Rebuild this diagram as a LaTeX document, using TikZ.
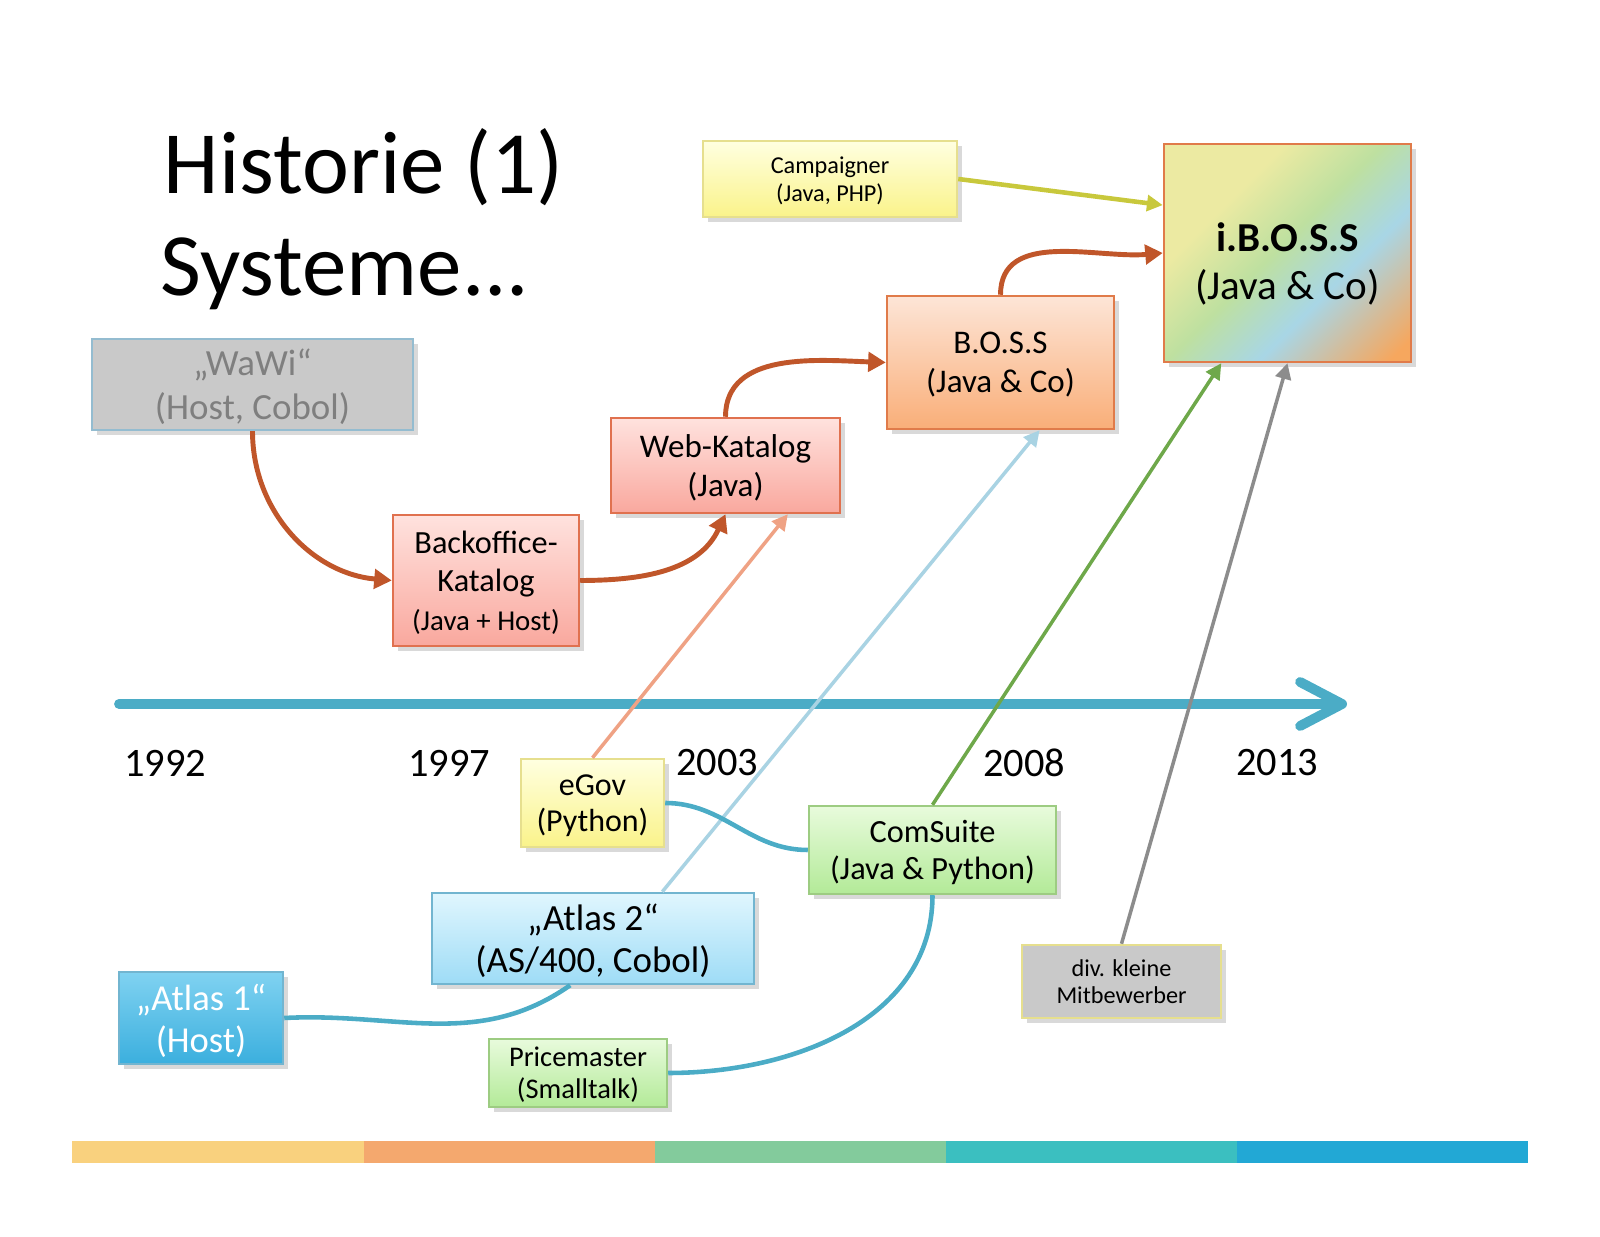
\documentclass[tikz,border=0pt]{standalone}
\usepackage{fontspec}
\setmainfont{Carlito}
\usetikzlibrary{arrows.meta,shadows}
\definecolor{HSEvolve}{HTML}{C0562A}
\definecolor{HSTime}{HTML}{4BACC6}
\definecolor{HSLink}{HTML}{4BACC6}
\definecolor{HSGrayFill}{HTML}{C9C9C9}
\definecolor{HSGrayText}{HTML}{7F7F7F}
\definecolor{HSWaWiLine}{HTML}{94BCD0}
\definecolor{HSRedTop}{HTML}{FFE2DE}
\definecolor{HSRedBot}{HTML}{F9A89E}
\definecolor{HSRedLine}{HTML}{E0714F}
\definecolor{HSPeachTop}{HTML}{FDE5D7}
\definecolor{HSPeachBot}{HTML}{F9AE78}
\definecolor{HSYelTop}{HTML}{FFFFE0}
\definecolor{HSYelBot}{HTML}{FAF38A}
\definecolor{HSYelLine}{HTML}{E6DF8E}
\definecolor{HSGrnTop}{HTML}{E8FBDC}
\definecolor{HSGrnBot}{HTML}{B3EA98}
\definecolor{HSGrnLine}{HTML}{9DCC82}
\definecolor{HSBluTop}{HTML}{E0F6FE}
\definecolor{HSBluBot}{HTML}{9EDCF6}
\definecolor{HSBluLine}{HTML}{72B5D0}
\definecolor{HSAtlTop}{HTML}{80D2F1}
\definecolor{HSAtlBot}{HTML}{3BAFDE}
\definecolor{HSIbY}{HTML}{ECEAA2}
\definecolor{HSIbG}{HTML}{BEE0A0}
\definecolor{HSIbB}{HTML}{A8D6E6}
\definecolor{HSIbO}{HTML}{F6A75E}
\definecolor{HSIbLine}{HTML}{E07B4A}
\definecolor{HSCampArrow}{HTML}{C8C83C}
\definecolor{HSGovArrow}{HTML}{EFA284}
\definecolor{HSAtlArrow}{HTML}{A9D3E3}
\definecolor{HSComArrow}{HTML}{6EA84A}
\definecolor{HSMitArrow}{HTML}{8C8C8C}
\definecolor{HSBarA}{HTML}{F9D17E}
\definecolor{HSBarB}{HTML}{F4A86E}
\definecolor{HSBarC}{HTML}{83CB9C}
\definecolor{HSBarD}{HTML}{3BBFC0}
\definecolor{HSBarE}{HTML}{22A8D5}
\pgfdeclarehorizontalshading{ibossshade}{100bp}{color(0bp)=(HSIbY); color(33bp)=(HSIbY); color(48bp)=(HSIbG); color(62bp)=(HSIbB); color(82bp)=(HSIbO); color(100bp)=(HSIbO)}
\newcommand{\sysgap}[1]{\rule{0pt}{#1}}

\begin{document}
\begin{tikzpicture}[x=1cm,y=1cm,
  sysbox/.style={draw,line width=0.7pt,align=center,inner sep=1pt,text depth=-2.4pt,drop shadow={shadow xshift=0.45mm,shadow yshift=-0.55mm,opacity=0.3}},
  evolve/.style={HSEvolve,line width=1.4pt,-{Triangle[width=5.5pt,length=5pt]}},
  feed/.style={line width=1pt,-{Triangle[width=4.5pt,length=4.5pt]}},
  merge/.style={HSLink,line width=1.3pt},
  yearlabel/.style={font=\fontsize{11.5}{13}\selectfont}]
\path[use as bounding box] (0,0) rectangle (16,12.36);
\node[anchor=base west,font=\fontsize{25.3}{29}\selectfont,inner sep=0pt] (title1) at (1.63,10.42) {Historie (1)};
\node[anchor=base west,font=\fontsize{25.3}{29}\selectfont,inner sep=0pt] (title2) at (1.60,9.40) {Systeme...};
\coordinate (tstart) at (1.19,5.32);
\coordinate (tend) at (13.47,5.32);
\draw[HSTime,line width=2.8pt,line cap=round,-{Straight Barb[length=4.2mm,width=4.4mm,round]}] (tstart) -- (tend);
\node[yearlabel] (y1992) at (1.65,4.73) {1992};
\node[yearlabel] (y1997) at (4.49,4.73) {1997};
\node[yearlabel] (y2003) at (7.17,4.73) {2003};
\node[yearlabel] (y2008) at (10.24,4.73) {2008};
\node[yearlabel] (y2013) at (12.77,4.73) {2013};
\node[sysbox,fill=HSGrayFill,draw=HSWaWiLine,text=HSGrayText,minimum width=3.21cm,minimum height=0.91cm,font=\fontsize{10.5}{12.5}\selectfont] (wawi) at (2.525,8.515) {„WaWi“\\(Host, Cobol)};
\node[sysbox,top color=HSRedTop,bottom color=HSRedBot,draw=HSRedLine,minimum width=1.86cm,minimum height=1.31cm,font=\fontsize{9.2}{11}\selectfont] (backoffice) at (4.86,6.555) {Backoffice-\\Katalog\\{\fontsize{8.2}{11}\selectfont(Java + Host)}};
\node[sysbox,top color=HSRedTop,bottom color=HSRedBot,draw=HSRedLine,minimum width=2.29cm,minimum height=0.95cm,font=\fontsize{9.4}{11}\selectfont] (webkatalog) at (7.255,7.705) {Web-Katalog\\(Java)};
\node[sysbox,top color=HSPeachTop,bottom color=HSPeachBot,draw=HSIbLine,minimum width=2.27cm,minimum height=1.33cm,font=\fontsize{9.4}{11}\selectfont] (boss) at (10.005,8.735) {B.O.S.S\\(Java \& Co)};
\node[sysbox,shading=ibossshade,shading angle=-45,draw=HSIbLine,minimum width=2.47cm,minimum height=2.18cm,font=\fontsize{11.7}{13.7}\selectfont] (iboss) at (12.875,9.83) {\sysgap{13pt}\textbf{i.B.O.S.S}\\(Java \& Co)};
\node[sysbox,top color=HSYelTop,bottom color=HSYelBot,draw=HSYelLine,minimum width=2.54cm,minimum height=0.76cm,font=\fontsize{6.9}{7.8}\selectfont] (campaigner) at (8.30,10.57) {Campaigner\\(Java, PHP)};
\node[sysbox,top color=HSYelTop,bottom color=HSYelBot,draw=HSYelLine,minimum width=1.43cm,minimum height=0.88cm,font=\fontsize{9.1}{10.4}\selectfont] (egov) at (5.925,4.33) {eGov\\(Python)};
\node[sysbox,top color=HSGrnTop,bottom color=HSGrnBot,draw=HSGrnLine,minimum width=2.47cm,minimum height=0.88cm,font=\fontsize{9.2}{10.4}\selectfont] (comsuite) at (9.325,3.86) {ComSuite\\(Java \& Python)};
\node[sysbox,top color=HSBluTop,bottom color=HSBluBot,draw=HSBluLine,minimum width=3.22cm,minimum height=0.91cm,font=\fontsize{10.5}{12}\selectfont] (atlas2) at (5.93,2.975) {„Atlas 2“\\(AS/400, Cobol)};
\node[sysbox,top color=HSAtlTop,bottom color=HSAtlBot,draw=HSBluLine,text=white,minimum width=1.64cm,minimum height=0.92cm,font=\fontsize{10.4}{12}\selectfont] (atlas1) at (2.01,2.18) {„Atlas 1“\\(Host)};
\node[sysbox,top color=HSGrnTop,bottom color=HSGrnBot,draw=HSGrnLine,minimum width=1.78cm,minimum height=0.68cm,font=\fontsize{8.1}{9.2}\selectfont] (pricemaster) at (5.78,1.63) {Pricemaster\\(Smalltalk)};
\node[sysbox,fill=HSGrayFill,draw=HSYelLine,minimum width=1.99cm,minimum height=0.73cm,font=\fontsize{6.9}{7.9}\selectfont] (mitbewerber) at (11.215,2.545) {div. kleine\\Mitbewerber};
\draw[evolve] (wawi.south) to[out=-90,in=175] (backoffice.west);
\draw[evolve] (backoffice.east) to[out=0,in=-115] (webkatalog.south);
\draw[evolve] (webkatalog.north) to[out=90,in=178] (boss.west);
\draw[evolve] (boss.north) to[out=90,in=185] (iboss.west);
\draw[feed,HSCampArrow,line width=1.3pt] (campaigner.east) -- (iboss.159);
\draw[feed,HSGovArrow] (egov.north) -- (webkatalog.-38);
\draw[feed,HSAtlArrow] (atlas2.34) -- (boss.-60);
\draw[feed,HSComArrow] (comsuite.north) -- (iboss.-121);
\draw[feed,HSMitArrow] (mitbewerber.north) -- (iboss.south);
\draw[merge] (egov.east) to[out=0,in=180] (comsuite.west);
\draw[merge] (atlas1.east) to[out=3,in=-145] (atlas2.-116);
\draw[merge] (pricemaster.east) to[out=0,in=-90] (comsuite.south);
\fill[HSBarA] (0.72,0.73) rectangle (3.64,0.95);
\fill[HSBarB] (3.64,0.73) rectangle (6.55,0.95);
\fill[HSBarC] (6.55,0.73) rectangle (9.46,0.95);
\fill[HSBarD] (9.46,0.73) rectangle (12.37,0.95);
\fill[HSBarE] (12.37,0.73) rectangle (15.28,0.95);
\end{tikzpicture}
\end{document}
